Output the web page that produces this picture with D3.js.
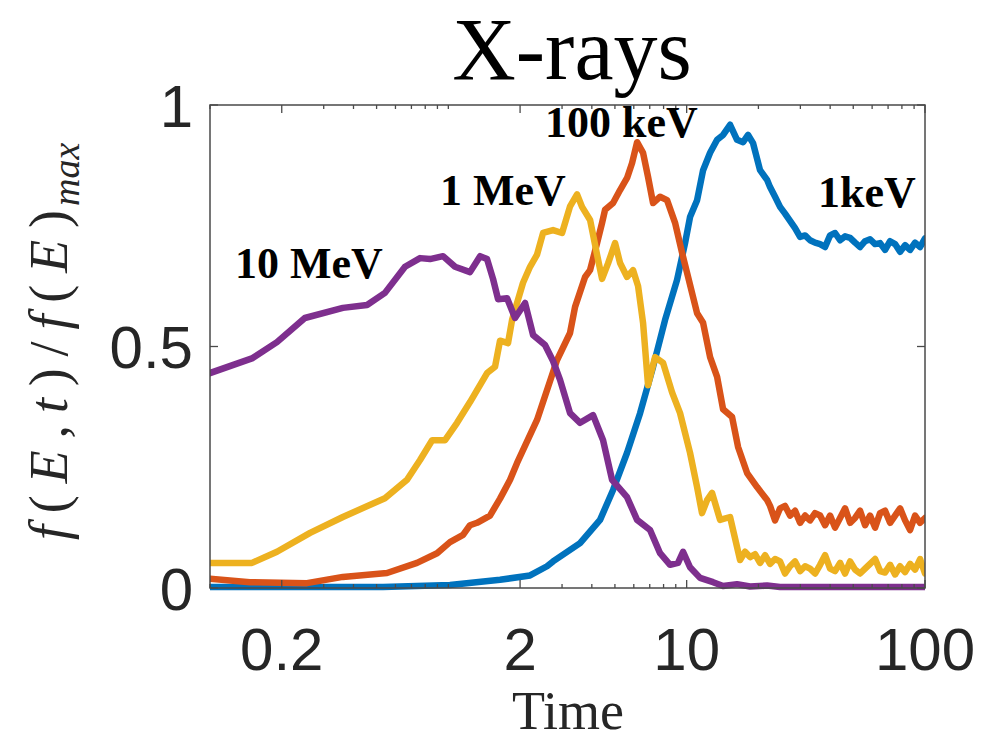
<!DOCTYPE html>
<html>
<head>
<meta charset="utf-8">
<script src="https://cdn.jsdelivr.net/npm/d3@7/dist/d3.min.js"></script>
<style>
  body { margin: 0; background: #ffffff; }
  svg { display: block; }
</style>
</head>
<body>
<svg id="chart" width="993" height="742"></svg>
<script>
// ---- data -------------------------------------------------------------
// common late-time sampling (t = 22.4 ... 100)
const tailTime = [22.38, 23.49, 24.65, 25.87, 27.15, 28.50, 29.91, 31.39, 32.94, 34.57,
  36.29, 38.08, 39.97, 41.94, 44.02, 46.20, 48.49, 50.89, 53.41, 56.05, 58.82, 61.74,
  64.79, 68.00, 71.37, 74.90, 78.61, 82.50, 86.58, 90.87, 95.37, 100];

// 1 keV
const keV1Time = [0.100, 0.532, 1.016, 1.648, 2.202, 2.595, 2.750, 3.571, 4.331, 4.911,
  5.623, 6.376, 7.228, 8.117, 9.113, 9.847, 10.33, 11.06, 11.72, 12.54, 13.42, 14.22,
  15.21, 16.27, 17.25, 18.10, 18.99, 20.32, 21.75];
const keV1Value = [0.002, 0.002, 0.006, 0.017, 0.026, 0.045, 0.055, 0.093, 0.141, 0.203,
  0.280, 0.362, 0.458, 0.555, 0.638, 0.714, 0.768, 0.803, 0.865, 0.901, 0.928, 0.938,
  0.959, 0.928, 0.923, 0.938, 0.921, 0.865, 0.845];
const keV1Tail = [0.830, 0.810, 0.789, 0.775, 0.760, 0.745, 0.727, 0.730, 0.720, 0.715,
  0.712, 0.706, 0.730, 0.735, 0.720, 0.728, 0.725, 0.715, 0.706, 0.718, 0.722, 0.712,
  0.714, 0.700, 0.718, 0.712, 0.696, 0.710, 0.700, 0.715, 0.706, 0.724];

// 100 keV
const keV100Time = [0.100, 0.147, 0.255, 0.361, 0.553, 0.739, 0.897, 1.016, 1.153, 1.233,
  1.320, 1.496, 1.648, 1.816, 1.943, 2.356, 2.859, 3.241, 3.402, 3.747, 3.933, 4.207,
  4.416, 4.546, 4.911, 5.255, 5.623, 5.902, 6.194, 6.562, 6.887, 7.228, 7.733, 8.274,
  8.940, 9.565, 10.14, 11.06, 11.72, 12.54, 13.42, 14.22, 15.51, 16.43, 17.93, 19.74, 21.75];
const keV100Value = [0.019, 0.012, 0.010, 0.023, 0.031, 0.052, 0.072, 0.095, 0.110, 0.130,
  0.135, 0.150, 0.185, 0.224, 0.259, 0.348, 0.472, 0.528, 0.582, 0.644, 0.658, 0.714,
  0.756, 0.783, 0.797, 0.824, 0.849, 0.880, 0.923, 0.901, 0.851, 0.797, 0.810, 0.803,
  0.756, 0.694, 0.644, 0.569, 0.549, 0.478, 0.437, 0.370, 0.354, 0.292, 0.238, 0.209, 0.182];
const keV100Tail = [0.170, 0.140, 0.165, 0.170, 0.150, 0.160, 0.135, 0.150, 0.140, 0.155,
  0.150, 0.130, 0.150, 0.125, 0.145, 0.165, 0.135, 0.145, 0.160, 0.130, 0.150, 0.125,
  0.155, 0.160, 0.135, 0.150, 0.165, 0.140, 0.120, 0.150, 0.135, 0.145];

// 1 MeV
const meV1Time = [0.100, 0.150, 0.191, 0.263, 0.361, 0.542, 0.671, 0.761, 0.855, 0.969,
  1.088, 1.233, 1.454, 1.570, 1.648, 1.780, 1.851, 2.058, 2.202, 2.356, 2.497, 2.750,
  3.000, 3.241, 3.469, 3.639, 3.933, 4.207, 4.416, 4.679, 5.007, 5.255, 5.623, 5.959,
  6.254, 6.562, 6.887, 7.369, 7.962, 8.684, 9.382, 10.33, 11.06, 11.60, 12.18, 12.78,
  13.81, 15.21, 16.75, 17.58, 18.45, 19.36, 20.32, 21.33];
const meV1Value = [0.052, 0.052, 0.075, 0.114, 0.147, 0.186, 0.224, 0.265, 0.306, 0.306,
  0.342, 0.385, 0.445, 0.458, 0.512, 0.507, 0.555, 0.632, 0.665, 0.690, 0.735, 0.741,
  0.735, 0.790, 0.815, 0.789, 0.762, 0.690, 0.640, 0.672, 0.714, 0.673, 0.644, 0.658,
  0.625, 0.549, 0.420, 0.478, 0.466, 0.405, 0.362, 0.280, 0.209, 0.155, 0.182, 0.197,
  0.141, 0.147, 0.058, 0.075, 0.064, 0.070, 0.052, 0.068];
const meV1Tail = [0.050, 0.060, 0.055, 0.030, 0.045, 0.055, 0.035, 0.045, 0.040, 0.030,
  0.048, 0.068, 0.040, 0.035, 0.052, 0.030, 0.055, 0.038, 0.030, 0.040, 0.050, 0.060,
  0.035, 0.032, 0.048, 0.028, 0.045, 0.033, 0.050, 0.038, 0.060, 0.030];

// 10 MeV
const meV10Time = [0.100, 0.151, 0.191, 0.250, 0.361, 0.456, 0.542, 0.658, 0.761, 0.838,
  0.950, 1.067, 1.233, 1.359, 1.454, 1.540, 1.617, 1.764, 1.905, 2.099, 2.267, 2.545,
  2.750, 2.943, 3.241, 3.571, 4.049, 4.459, 4.864, 5.623, 6.194, 7.021, 7.733, 8.518,
  9.202, 9.658, 10.33, 11.38, 12.91, 14.22, 16.27, 18.45, 21.75, 24.65, 100];
const meV10Value = [0.445, 0.476, 0.509, 0.559, 0.580, 0.586, 0.611, 0.665, 0.683, 0.681,
  0.687, 0.665, 0.654, 0.687, 0.681, 0.640, 0.598, 0.600, 0.559, 0.590, 0.524, 0.503,
  0.470, 0.431, 0.362, 0.342, 0.358, 0.306, 0.224, 0.188, 0.141, 0.120, 0.072, 0.048,
  0.052, 0.075, 0.043, 0.021, 0.012, 0.004, 0.008, 0.003, 0.005, 0.002, 0.002];

const seriesNames = ["1keV", "100 keV", "1 MeV", "10 MeV"];
const seriesColors = ["#0072BD", "#D95319", "#EDB120", "#7E2F8E"];

const xTickValues = [0.2, 2, 10, 100];
const yTickValues = [0, 0.5, 1];

// ---- assemble series --------------------------------------------------
const zip = (ts, vs) => ts.map((t, i) => ({ t, v: vs[i] }));
const series = [
  zip(keV1Time.concat(tailTime), keV1Value.concat(keV1Tail)),
  zip(keV100Time.concat(tailTime), keV100Value.concat(keV100Tail)),
  zip(meV1Time.concat(tailTime), meV1Value.concat(meV1Tail)),
  zip(meV10Time, meV10Value)
];

// ---- layout -----------------------------------------------------------
const svg = d3.select("#chart");
const plot = { left: 210, right: 925, top: 105, bottom: 588 };

const x = d3.scaleLog().domain([0.1, 100]).range([plot.left, plot.right]);
const y = d3.scaleLinear().domain([0, 1]).range([plot.bottom, plot.top]);

svg.append("defs").append("clipPath").attr("id", "plotClip")
  .append("rect")
  .attr("x", plot.left).attr("y", plot.top - 4)
  .attr("width", plot.right - plot.left)
  .attr("height", plot.bottom - plot.top + 8);

// ---- curves -----------------------------------------------------------
const line = d3.line().x(d => x(d.t)).y(d => y(d.v));
svg.append("g").attr("clip-path", "url(#plotClip)")
  .selectAll("path").data(series).join("path")
  .attr("d", line)
  .attr("fill", "none")
  .attr("stroke", (d, i) => seriesColors[i])
  .attr("stroke-width", 6.5)
  .attr("stroke-linejoin", "round")
  .attr("stroke-linecap", "round");

// ---- frame and ticks --------------------------------------------------
const axisColor = "#4a4a4a";
const axes = svg.append("g");
axes.append("rect")
  .attr("x", plot.left).attr("y", plot.top)
  .attr("width", plot.right - plot.left).attr("height", plot.bottom - plot.top)
  .attr("fill", "none").attr("stroke", axisColor).attr("stroke-width", 1.5);

const minorTicks = x.ticks().filter(v => !xTickValues.includes(v));
const tickG = axes.append("g").attr("stroke", axisColor).attr("stroke-width", 1.3);
minorTicks.forEach(v => {
  tickG.append("line").attr("x1", x(v)).attr("x2", x(v)).attr("y1", plot.bottom).attr("y2", plot.bottom - 4);
  tickG.append("line").attr("x1", x(v)).attr("x2", x(v)).attr("y1", plot.top).attr("y2", plot.top + 4);
});
xTickValues.forEach(v => {
  tickG.append("line").attr("x1", x(v)).attr("x2", x(v)).attr("y1", plot.bottom).attr("y2", plot.bottom - 8);
  tickG.append("line").attr("x1", x(v)).attr("x2", x(v)).attr("y1", plot.top).attr("y2", plot.top + 8);
});
yTickValues.forEach(v => {
  tickG.append("line").attr("x1", plot.left).attr("x2", plot.left + 8).attr("y1", y(v)).attr("y2", y(v));
  tickG.append("line").attr("x1", plot.right).attr("x2", plot.right - 8).attr("y1", y(v)).attr("y2", y(v));
});

// tick labels
const tickFont = "'Liberation Sans', Arial, Helvetica, sans-serif";
axes.append("g").selectAll("text").data(xTickValues).join("text")
  .attr("x", d => x(d)).attr("y", 670)
  .attr("text-anchor", "middle")
  .attr("font-family", tickFont).attr("font-size", 60).attr("fill", "#262626")
  .text(d => String(d));
axes.append("g").selectAll("text").data(yTickValues).join("text")
  .attr("x", 193).attr("y", d => y(d) + 21.5)
  .attr("text-anchor", "end")
  .attr("font-family", tickFont).attr("font-size", 60).attr("fill", "#262626")
  .text(d => String(d));

// ---- titles -----------------------------------------------------------
const serif = "'Liberation Serif', 'Times New Roman', Times, serif";
svg.append("text")
  .attr("x", 572).attr("y", 79)
  .attr("text-anchor", "middle")
  .attr("font-family", serif).attr("font-size", 88).attr("fill", "#000")
  .text("X-rays");

svg.append("text")
  .attr("x", 568).attr("y", 729)
  .attr("text-anchor", "middle")
  .attr("font-family", serif).attr("font-size", 54).attr("fill", "#262626")
  .text("Time");

// y-axis label: f(E,t)/f(E)_max, written bottom-to-top
const yLabG = svg.append("g").attr("transform", "translate(67,345) rotate(-90)");
const yLab = yLabG.append("text")
  .attr("x", -195).attr("y", 0)
  .attr("font-family", serif).attr("font-size", 54).attr("fill", "#262626")
  .attr("textLength", 330).attr("lengthAdjust", "spacing");
[["f", true], ["(", false], ["E", true], [",", false], ["t", true], [")", false],
 ["/", false], ["f", true], ["(", false], ["E", true], [")", false]].forEach(([s, it]) => {
  yLab.append("tspan").attr("font-style", it ? "italic" : "normal").text(s);
});
yLabG.append("text")
  .attr("x", 139).attr("y", 12)
  .attr("font-family", serif).attr("font-size", 38).attr("font-style", "italic")
  .attr("fill", "#262626")
  .text("max");

// ---- series annotations -----------------------------------------------
const labelPos = [[818, 207], [545, 137], [440, 205], [235, 278]];
svg.append("g").selectAll("text").data(seriesNames).join("text")
  .attr("x", (d, i) => labelPos[i][0]).attr("y", (d, i) => labelPos[i][1])
  .attr("font-family", serif).attr("font-weight", "bold").attr("font-size", 44)
  .attr("fill", "#000")
  .text(d => d);
</script>
</body>
</html>
